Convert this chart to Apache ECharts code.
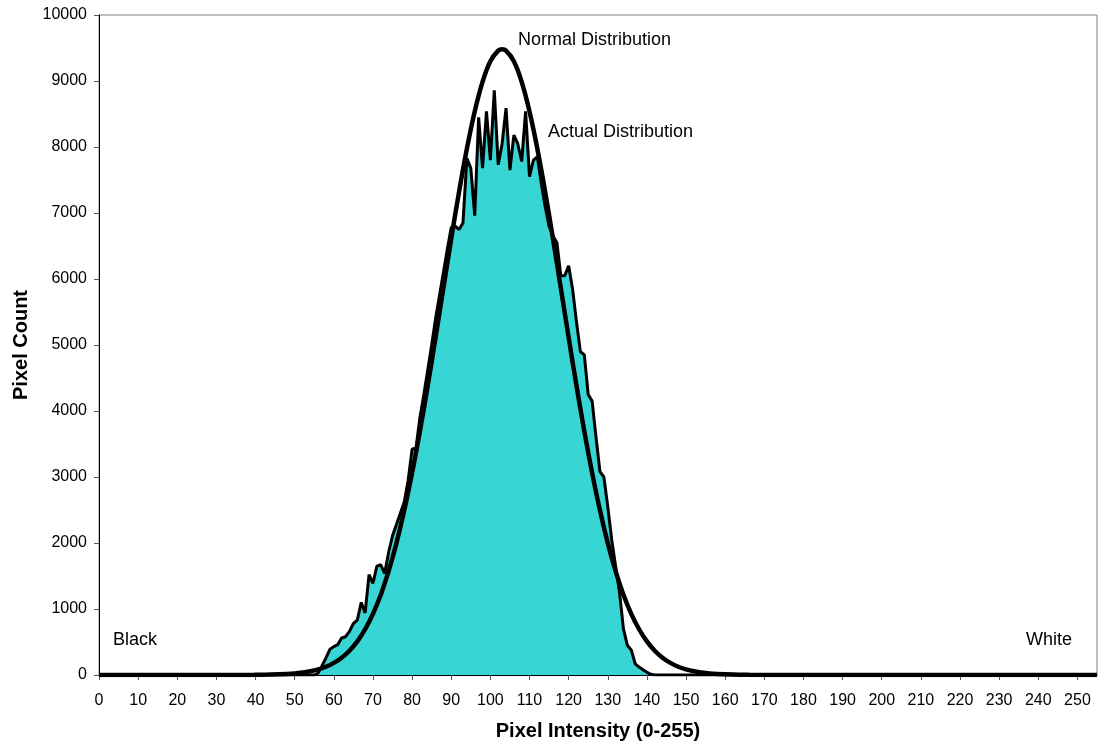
<!DOCTYPE html>
<html>
<head>
<meta charset="utf-8">
<script src="https://cdn.jsdelivr.net/npm/echarts@6/dist/echarts.min.js"></script>
<style>
  html, body { margin: 0; padding: 0; background: #fff; }
  #histo { width: 1099px; height: 746px; }
</style>
</head>
<body>
<div id="histo"></div>
<script>
// histogram of pixel intensities
var actualStart = 54;
var actualCounts = [
    0, 0, 30, 140, 260, 390, 430, 460, 560, 580,            // 54-63
    660, 780, 830, 1100, 940, 1520, 1390, 1650, 1670, 1540, // 64-73
    1860, 2110, 2280, 2450, 2620, 2950, 3420, 3440, 3900, 4250, // 74-83
    4620, 5000, 5400, 5750, 6100, 6450, 6780, 6800, 6750, 6850, // 84-93
    7830, 7680, 6960, 8450, 7680, 8540, 7800, 8860, 7730, 8050, // 94-103
    8590, 7650, 8180, 8050, 7780, 8540, 7550, 7800, 7850, 7450, // 104-113
    7100, 6800, 6650, 6550, 6050, 6050, 6200, 5850, 5350, 4900, // 114-123
    4850, 4250, 4150, 3600, 3080, 3000, 2550, 2050, 1650, 1250, // 124-133
    700, 450, 380, 170, 120, 80, 40, 10, 0                  // 134-142
];

// fitted normal curve, sampled every 2 levels
var normalX = [0, 36, 40, 44, 48, 50, 52, 54, 56, 58, 60, 62, 64, 66, 68, 70, 72, 74, 76, 78,
    80, 82, 84, 86, 88, 90, 92, 94, 96, 98, 100, 102, 103, 104, 106, 108, 110, 112, 114, 116, 118,
    120, 122, 124, 126, 128, 130, 132, 134, 136, 138, 140, 142, 144, 146, 148, 150, 152, 154,
    156, 158, 162, 166, 172, 255];
var normalY = [0, 0, 2, 6, 15, 23, 37, 56, 85, 125, 183, 262, 368, 509, 693, 926, 1217, 1573, 1998, 2495,
    3063, 3696, 4384, 5114, 5863, 6607, 7321, 7974, 8538, 8987, 9300, 9460, 9480, 9460, 9300, 8987, 8538, 7974, 7321, 6607, 5863,
    5114, 4384, 3696, 3063, 2495, 1998, 1573, 1217, 926, 693, 509, 368, 262, 183, 125, 85, 56, 37,
    23, 15, 6, 2, 0, 0];

var xMax = 255;

var actualData = [];
for (var i = 0; i <= xMax; i++) {
    var k = i - actualStart;
    var v = (k >= 0 && k < actualCounts.length) ? actualCounts[k] : 0;
    actualData.push([i, v]);
}
var normalData = normalX.map(function (x, j) { return [x, normalY[j]]; });

var FONT = '"Liberation Sans", Arial, sans-serif';

var chart = echarts.init(document.getElementById('histo'));
chart.setOption({
    animation: false,
    textStyle: { fontFamily: FONT, color: '#000' },
    grid: {
        left: 99, right: 2, top: 15, bottom: 71,
        show: true, borderColor: '#808080', borderWidth: 1
    },
    xAxis: {
        type: 'value',
        min: 0,
        max: xMax,
        interval: 10,
        name: 'Pixel Intensity (0-255)',
        nameLocation: 'middle',
        nameGap: 46,
        nameTextStyle: { fontFamily: FONT, fontSize: 20, fontWeight: 'bold', color: '#000' },
        axisLine: { lineStyle: { color: '#000', width: 1 } },
        axisTick: { show: true, length: 5, lineStyle: { color: '#555' } },
        axisLabel: { fontFamily: FONT, fontSize: 16, color: '#000', margin: 18, showMaxLabel: false },
        splitLine: { show: false }
    },
    yAxis: {
        type: 'value',
        min: 0,
        max: 10000,
        interval: 1000,
        name: 'Pixel Count',
        nameLocation: 'middle',
        nameRotate: 90,
        nameGap: 68,
        nameTextStyle: { fontFamily: FONT, fontSize: 20, fontWeight: 'bold', color: '#000' },
        axisLine: { show: true, lineStyle: { color: '#000', width: 1 } },
        axisTick: { show: true, length: 5, lineStyle: { color: '#555' } },
        axisLabel: {
            fontFamily: FONT, fontSize: 16, color: '#000', margin: 12,
            formatter: function (v) { return String(v); }
        },
        splitLine: { show: false }
    },
    series: [
        {
            name: 'Actual Distribution',
            type: 'line',
            data: actualData,
            symbol: 'none',
            lineStyle: { color: '#000', width: 3 },
            areaStyle: { color: '#38D5D5', opacity: 1 },
            z: 2
        },
        {
            name: 'Normal Distribution',
            type: 'line',
            data: normalData,
            smooth: 0.4,
            symbol: 'none',
            lineStyle: { color: '#000', width: 4.5 },
            z: 3
        }
    ],
    graphic: [
        { type: 'text', left: 518, top: 31, style: { text: 'Normal Distribution', font: '18px ' + FONT, fill: '#000' } },
        { type: 'text', left: 548, top: 123, style: { text: 'Actual Distribution', font: '18px ' + FONT, fill: '#000' } },
        { type: 'text', left: 113, top: 631, style: { text: 'Black', font: '18px ' + FONT, fill: '#000' } },
        { type: 'text', left: 1026, top: 631, style: { text: 'White', font: '18px ' + FONT, fill: '#000' } }
    ]
});
</script>
</body>
</html>
